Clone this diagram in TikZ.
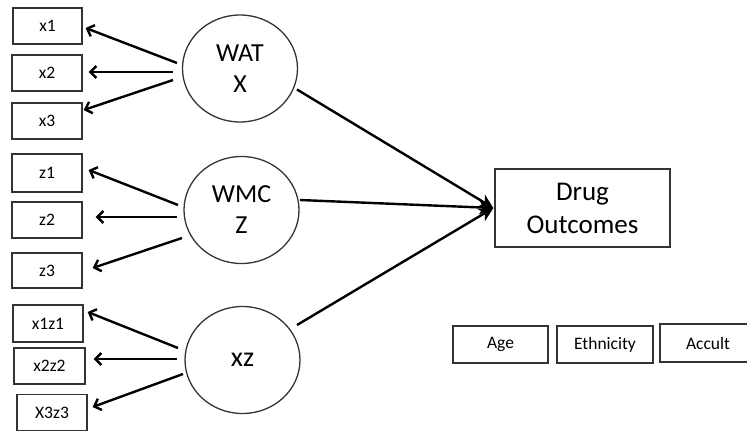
\documentclass[tikz,border=0pt]{standalone}
\usepackage{fontspec}
\setmainfont{Carlito}
\usetikzlibrary{arrows.meta,shapes.geometric}
\begin{document}
\begin{tikzpicture}[x=1pt,y=-1pt,
  ind/.style={draw=black!80,line width=1.3pt,rectangle,minimum width=70pt,minimum height=36pt,inner sep=0pt,
    font=\fontsize{17.5}{20}\selectfont,text=black},
  cov/.style={ind,minimum width=96pt,minimum height=37pt},
  lat/.style={draw=black!80,line width=1.3pt,ellipse,minimum width=115pt,minimum height=107pt,inner sep=0pt,
    align=center,font=\fontsize{26}{31}\selectfont,text=black},
  outc/.style={draw=black!80,line width=1.3pt,rectangle,minimum width=175pt,minimum height=78pt,inner sep=0pt,
    align=center,font=\fontsize{27}{33}\selectfont,text=black},
  arr/.style={line width=2.4pt,black,-{Straight Barb[length=6pt,width=12pt]}},
  arrd/.style={line width=2.4pt,black,-{Stealth[length=14pt,width=14pt,inset=4pt]}}
]
\useasboundingbox (0,0) rectangle (747,432);
% indicators
\node[ind,minimum width=69pt] (x1) at (47.5,26) {x1};
\node[ind] (x2) at (47,73) {x2};
\node[ind] (x3) at (47,121) {x3};
\node[ind,minimum height=38pt] (z1) at (47,173) {z1};
\node[ind] (z2) at (47,220) {z2};
\node[ind,minimum height=35pt] (z3) at (47,270.5) {z3};
\node[ind,minimum height=37pt] (x1z1) at (48,323.5) {x1z1};
\node[ind,minimum width=71pt] (x2z2) at (49.5,366) {x2z2};
\node[ind,minimum height=36pt] (x3z3) at (52,412.5) {X3z3};
% latent
\node[lat] (wat) at (240,68.5) {WAT\\X};
\node[lat] (wmc) at (241.5,210) {WMC\\Z};
\node[lat,font=\fontsize{28}{31}\selectfont] (xz) at (242.5,360) {xz};
% outcome
\node[outc] (drug) at (582.5,208) {Drug\\Outcomes};
% covariates
\node[cov,minimum width=95pt] (age) at (500.5,344.5) {Age};
\node[cov] (eth) at (605,344.5) {Ethnicity};
\node[cov,minimum height=38pt] (acc) at (708,343) {Accult};
% arrows to indicators
\draw[arr] ([shift={(-63,-5.5)}]wat.center) -- ([shift={(3,2)}]x1.east);
\draw[arr] ([shift={(-67,3.5)}]wat.center) -- ([shift={(6,-1)}]x2.east);
\draw[arr] ([shift={(-67,11.5)}]wat.center) -- ([shift={(1,-11)}]x3.east);
\draw[arr] ([shift={(-63.5,-5)}]wmc.center) -- ([shift={(6,-3)}]z1.east);
\draw[arr] ([shift={(-64.5,7)}]wmc.center) -- ([shift={(13,-3)}]z2.east);
\draw[arr] ([shift={(-59.5,28)}]wmc.center) -- ([shift={(10,-2.5)}]z3.east);
\draw[arr] ([shift={(-64.5,-12)}]xz.center) -- ([shift={(4,-11.5)}]x1z1.east);
\draw[arr] ([shift={(-65.5,-1)}]xz.center) -- ([shift={(8,-7)}]x2z2.east);
\draw[arr] ([shift={(-59.5,14)}]xz.center) -- ([shift={(5,-5.5)}]x3z3.east);
% structural paths
\draw[arrd] ([shift={(57,21)}]wat.center) -- ([xshift=-1pt]drug.west);
\draw[arrd] ([shift={(58.5,-10)}]wmc.center) -- ([xshift=-1pt]drug.west);
\draw[arrd] ([shift={(54.5,-35)}]xz.center) -- ([xshift=-1pt]drug.west);
\end{tikzpicture}
\end{document}
